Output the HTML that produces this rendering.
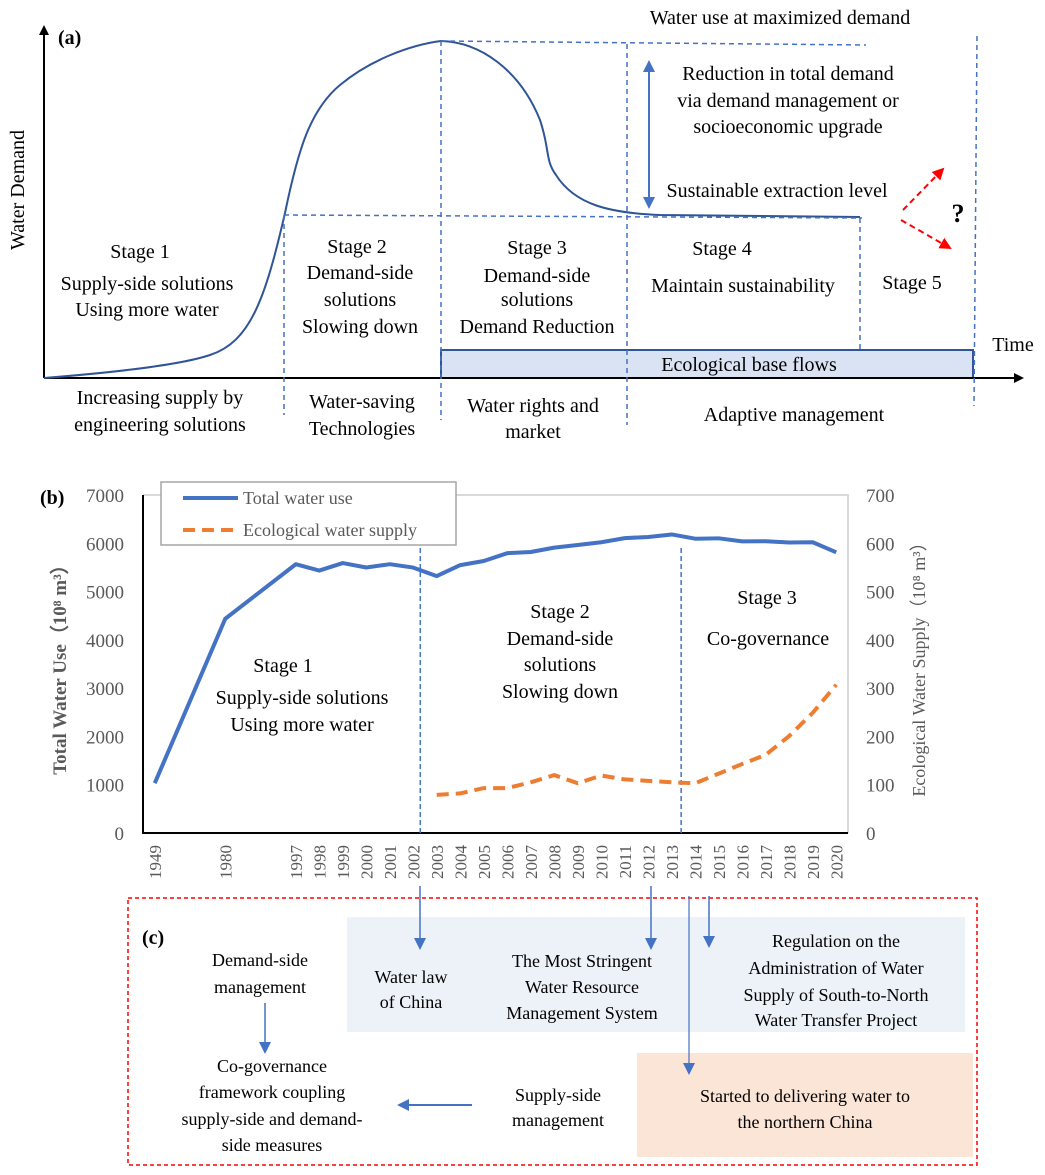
<!DOCTYPE html>
<html><head><meta charset="utf-8"><style>
html,body{margin:0;padding:0;background:#fff}
svg{display:block;font-family:"Liberation Serif",serif}
.t{font-size:20px;fill:#000}
</style></head><body>
<svg id="fig" width="1045" height="1175" viewBox="0 0 1045 1175">
<defs>
<marker id="ab" markerWidth="10" markerHeight="10" refX="8" refY="5" orient="auto" markerUnits="userSpaceOnUse"><path d="M0,0 L10,5 L0,10 z" fill="#000"/></marker>
<marker id="abl" markerWidth="12" markerHeight="12" refX="10" refY="6" orient="auto" markerUnits="userSpaceOnUse"><path d="M0,0 L12,6 L0,12 z" fill="#4472c4"/></marker>
<marker id="abls" markerWidth="12" markerHeight="12" refX="2" refY="6" orient="auto" markerUnits="userSpaceOnUse"><path d="M12,0 L0,6 L12,12 z" fill="#4472c4"/></marker>
<marker id="ar" markerWidth="12" markerHeight="12" refX="10" refY="6" orient="auto" markerUnits="userSpaceOnUse"><path d="M0,0 L12,6 L0,12 z" fill="#f00"/></marker>
</defs>

<g>
<rect x="441" y="350" width="532" height="28" fill="#dae3f3" stroke="#2f5597" stroke-width="2"/>
<line x1="44" y1="378" x2="44" y2="27" stroke="#000" stroke-width="2" marker-end="url(#ab)"/>
<line x1="44" y1="378" x2="1022" y2="378" stroke="#000" stroke-width="2" marker-end="url(#ab)"/>
<path d="M44,378 C120,372 180,365 210,355 C250,342 265,300 285,213 C298,150 310,110 340,85 C370,60 410,45 441,41 C480,42 520,70 540,120 C550,150 545,160 556,175 C575,205 610,213 660,215 L860,217" fill="none" stroke="#2f5597" stroke-width="2"/>
<g stroke="#4472c4" stroke-width="1.5" stroke-dasharray="5,4" fill="none">
<line x1="441" y1="41" x2="866" y2="45"/>
<line x1="284" y1="215" x2="862" y2="218"/>
<line x1="284" y1="215" x2="284" y2="415"/>
<line x1="441" y1="41" x2="441" y2="420"/>
<line x1="627" y1="44" x2="627" y2="425"/>
<line x1="860" y1="218" x2="860" y2="350"/>
<line x1="977" y1="36" x2="974" y2="406"/>
</g>
<line x1="649" y1="62" x2="649" y2="207" stroke="#4472c4" stroke-width="2" marker-start="url(#abls)" marker-end="url(#abl)"/>
<line x1="903" y1="210" x2="943" y2="169" stroke="#f00" stroke-width="2" stroke-dasharray="6,4" marker-end="url(#ar)"/>
<line x1="901" y1="220" x2="950" y2="248" stroke="#f00" stroke-width="2" stroke-dasharray="6,4" marker-end="url(#ar)"/>
<text x="958" y="222" text-anchor="middle" font-size="26" font-weight="bold">?</text>
<text x="58" y="44" font-size="20" font-weight="bold">(a)</text>
<text transform="translate(24,190) rotate(-90)" text-anchor="middle" class="t">Water Demand</text>
<g class="t" text-anchor="middle">
<text x="780" y="24">Water use at maximized demand</text>
<text x="788" y="80">Reduction in total demand</text>
<text x="788" y="107">via demand management or</text>
<text x="788" y="133">socioeconomic upgrade</text>
<text x="777" y="197">Sustainable extraction level</text>
<text x="140" y="258">Stage 1</text>
<text x="147" y="290">Supply-side solutions</text>
<text x="147" y="316">Using more water</text>
<text x="357" y="253">Stage 2</text>
<text x="360" y="279">Demand-side</text>
<text x="360" y="306">solutions</text>
<text x="360" y="333">Slowing down</text>
<text x="537" y="254">Stage 3</text>
<text x="537" y="282">Demand-side</text>
<text x="537" y="306">solutions</text>
<text x="537" y="333">Demand Reduction</text>
<text x="722" y="255">Stage 4</text>
<text x="743" y="292">Maintain sustainability</text>
<text x="912" y="289">Stage 5</text>
<text x="1013" y="351">Time</text>
<text x="749" y="371">Ecological base flows</text>
<text x="160" y="404">Increasing supply by</text>
<text x="160" y="431">engineering solutions</text>
<text x="362" y="408">Water-saving</text>
<text x="362" y="435">Technologies</text>
<text x="533" y="412">Water rights and</text>
<text x="533" y="438">market</text>
<text x="794" y="421">Adaptive management</text>
</g>
</g>

<g id="pb"></g>

<g>
<rect x="128" y="898" width="849" height="267" fill="none" stroke="#f00" stroke-width="1.5" stroke-dasharray="4,3"/>
<rect x="347" y="917" width="618" height="115" fill="#edf2f9"/>
<rect x="637" y="1053" width="336" height="104" fill="#fbe5d6"/>
<g stroke="#4472c4" stroke-width="1.5">
<line x1="420" y1="886" x2="420" y2="948" marker-end="url(#abl)"/>
<line x1="651" y1="886" x2="651" y2="948" marker-end="url(#abl)"/>
<line x1="709" y1="896" x2="709" y2="946" marker-end="url(#abl)"/>
<line x1="689" y1="896" x2="689" y2="1073" stroke-width="1.2" marker-end="url(#abl)"/>
<line x1="265" y1="1003" x2="265" y2="1052" marker-end="url(#abl)"/>
<line x1="472" y1="1105" x2="399" y2="1105" stroke-width="2" marker-end="url(#abl)"/>
</g>
<text x="142" y="944" font-size="20" font-weight="bold">(c)</text>
<g class="t" text-anchor="middle" font-size="18" style="font-size:18px">
<text x="260" y="966">Demand-side</text>
<text x="260" y="993">management</text>
<text x="272" y="1072">Co-governance</text>
<text x="272" y="1098">framework coupling</text>
<text x="272" y="1125">supply-side and demand-</text>
<text x="272" y="1151">side measures</text>
<text x="558" y="1101">Supply-side</text>
<text x="558" y="1126">management</text>
<text x="411" y="983">Water law</text>
<text x="411" y="1008">of China</text>
<text x="582" y="967">The Most Stringent</text>
<text x="582" y="993">Water Resource</text>
<text x="582" y="1019">Management System</text>
<text x="836" y="947">Regulation on the</text>
<text x="836" y="974">Administration of Water</text>
<text x="836" y="1001">Supply of South-to-North</text>
<text x="836" y="1026">Water Transfer Project</text>
<text x="805" y="1102">Started to delivering water to</text>
<text x="805" y="1128">the northern China</text>
</g>
</g>
</svg>
<script>
const years = ["1949","1980","1997","1998","1999","2000","2001","2002","2003","2004","2005","2006","2007","2008","2009","2010","2011","2012","2013","2014","2015","2016","2017","2018","2019","2020"];
const slots = [0,3,6,7,8,9,10,11,12,13,14,15,16,17,18,19,20,21,22,23,24,25,26,27,28,29];
const totalUse = [1031,4437,5566,5435,5591,5498,5567,5497,5320,5548,5633,5795,5819,5910,5965,6022,6107,6131,6183,6095,6103,6040,6043,6016,6021,5813];
const ecoYears = ["2003","2004","2005","2006","2007","2008","2009","2010","2011","2012","2013","2014","2015","2016","2017","2018","2019","2020"];
const ecoSupply = [79,82,93,93,105,120,103,119,111,108,105,103,123,143,162,201,249,307];
const leftTicks = [0,1000,2000,3000,4000,5000,6000,7000];
const rightTicks = [0,100,200,300,400,500,600,700];

const NS="http://www.w3.org/2000/svg";
const g=document.getElementById('pb');
const X0=143,X1=848,Y0=833,Y1=495,NSLOT=30;
const sw=(X1-X0)/NSLOT;
function xs(slot){return X0+(slot+0.5)*sw;}
function yl(v){return Y0-(v/7000)*(Y0-Y1);}
function yr(v){return Y0-(v/700)*(Y0-Y1);}
function slotOf(y){return slots[years.indexOf(y)];}
function mk(tag,attrs,txt){const e=document.createElementNS(NS,tag);for(const k in attrs)e.setAttribute(k,attrs[k]);if(txt!==undefined)e.textContent=txt;g.appendChild(e);return e;}

let e;
e=mk('path',{d:`M${X0},${Y1} L${X1},${Y1} L${X1},${Y0}`,fill:'none',stroke:'#d9d9d9','stroke-width':2});


e=mk('path',{d:`M${X0},${Y1} L${X0},${Y0} L${X1},${Y0}`,fill:'none',stroke:'#000','stroke-width':2});



leftTicks.forEach(v=>{
  e=mk('text',{x:124,y:yl(v)+7,'text-anchor':'end','font-size':19,fill:'#595959'},String(v));
  
  
});
rightTicks.forEach(v=>{
  e=mk('text',{x:866,y:yr(v)+7,'font-size':19,fill:'#595959'},String(v));
  
  
});
years.forEach((y,i)=>{
  const x=xs(slots[i])+6;
  e=mk('text',{x:x,y:845,transform:`rotate(-90 ${x} 845)`,'text-anchor':'end','font-size':17,fill:'#595959'},y);
  
  
});

[[xs(slotOf("2002"))+sw*0.3],[xs(slotOf("2013"))+sw*0.4]].forEach(a=>{
  e=mk('line',{x1:a[0],y1:548,x2:a[0],y2:Y0,stroke:'#4472c4','stroke-width':1.5,'stroke-dasharray':'5,3'});
  
  
});

e=mk('polyline',{points:totalUse.map((v,i)=>xs(slots[i])+','+yl(v)).join(' '),fill:'none',stroke:'#4472c4','stroke-width':4,'stroke-linejoin':'round'});


e=mk('polyline',{points:ecoSupply.map((v,i)=>xs(slotOf(ecoYears[i]))+','+yr(v)).join(' '),fill:'none',stroke:'#ed7d31','stroke-width':4,'stroke-dasharray':'12,7'});



e=mk('rect',{x:161,y:482,width:295,height:63,fill:'#fff',stroke:'#a6a6a6','stroke-width':1.5});


e=mk('line',{x1:183,y1:498,x2:238,y2:498,stroke:'#4472c4','stroke-width':4});


e=mk('text',{x:243,y:504,'font-size':18,fill:'#595959'},'Total water use');


e=mk('line',{x1:183,y1:530,x2:238,y2:530,stroke:'#ed7d31','stroke-width':4,'stroke-dasharray':'12,7'});


e=mk('text',{x:243,y:536,'font-size':18,fill:'#595959'},'Ecological water supply');



e=mk('text',{x:40,y:504,'font-size':20,'font-weight':'bold'},'(b)');


e=mk('text',{x:0,y:0,transform:'translate(66,665) rotate(-90)','text-anchor':'middle','font-size':19,'font-weight':'bold',fill:'#595959'},'Total Water Use（10⁸ m³）');


e=mk('text',{x:0,y:0,transform:'translate(925,665) rotate(-90)','text-anchor':'middle','font-size':18,fill:'#595959'},'Ecological Water Supply（10⁸ m³）');



const stageTexts=[["Stage 1",283,672],["Supply-side solutions",302,704],["Using more water",302,731],["Stage 2",560,618],["Demand-side",560,645],["solutions",560,671],["Slowing down",560,698],["Stage 3",767,604],["Co-governance",768,645]];
stageTexts.forEach(s=>{
  e=mk('text',{x:s[1],y:s[2],'text-anchor':'middle','font-size':20},s[0]);
  
  
});
</script>
</body></html>
